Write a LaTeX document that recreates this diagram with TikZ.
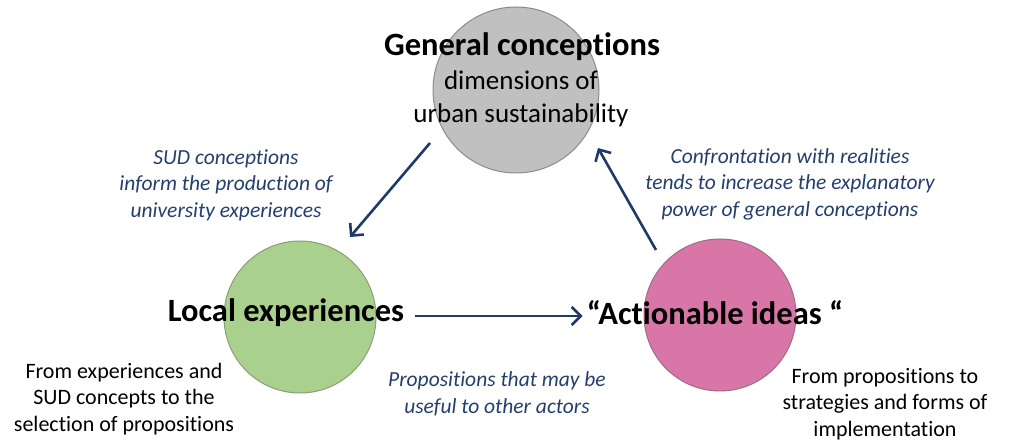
\documentclass[tikz,border=0pt]{standalone}
\usepackage{fontspec}
\setmainfont{Carlito}[Ligatures=NoCommon]
\usetikzlibrary{arrows.meta,calc}
\definecolor{navy}{HTML}{1F3A68}
\definecolor{lbl}{HTML}{243F6B}
\definecolor{grayfill}{HTML}{C0C0C0}
\definecolor{grayedge}{HTML}{8C8C8C}
\definecolor{greenfill}{HTML}{A9D08C}
\definecolor{greenedge}{HTML}{8A9E78}
\definecolor{pinkfill}{HTML}{D876A8}
\definecolor{pinkedge}{HTML}{A06C86}
\tikzset{
  circ/.style={circle, inner sep=0pt, line width=1pt},
  head/.style={font=\fontsize{32.5}{34}\selectfont\bfseries, text=black, inner sep=0pt},
  sub/.style={font=\fontsize{27}{33}\selectfont, text=black, align=center, inner sep=0pt},
  note/.style={font=\fontsize{22}{26.5}\selectfont, text=black, align=center, inner sep=0pt},
  lab/.style={font=\fontsize{21.5}{26.5}\selectfont\itshape, text=lbl, align=center, inner sep=0pt},
  flow/.style={draw=navy, line width=2.6pt, -{Straight Barb[length=9pt,width=18pt,line width=2.6pt]}}
}
\begin{document}
\begin{tikzpicture}[x=1pt,y=-1pt]
\useasboundingbox (0,0) rectangle (1013,443);
% circles
\node[circ, draw=grayedge, fill=grayfill, minimum size=166pt] (gc) at (516,90) {};
\node[circ, draw=greenedge, fill=greenfill, minimum size=152pt] (lc) at (300,317) {};
\node[circ, draw=pinkedge, fill=pinkfill, minimum size=152pt] (ac) at (720,315) {};
% titles
\node[head] (gt) at (522,47) {General conceptions};
\node[sub] (gs) at (521,99) {dimensions of\\urban sustainability};
\node[head] (lt) at (286,313) {Local experiences};
\node[head] (at) at (715,313) {“Actionable ideas “};
% arrows
\coordinate (a1s) at (430,143);
\coordinate (a1e) at (350,237);
\coordinate (a2s) at (656,250);
\coordinate (a2e) at (598,148);
\coordinate (a3s) at ($(lt.east)+(11,3)$);
\coordinate (a3e) at ($(at.west)+(-4,3)$);
\draw[flow] (a1s) -- (a1e);
\draw[flow] (a2s) -- (a2e);
\draw[flow] (a3s) -- (a3e);
% labels
\node[lab] (l1) at (226,185) {SUD conceptions\\inform the production of\\university experiences};
\node[lab] (l2) at (790,184) {Confrontation with realities\\tends to increase the explanatory\\power of  general conceptions};
\node[lab] (l3) at (497,394) {Propositions that may be\\useful to other actors};
% notes
\node[note] (n1) at (124,399) {From experiences and\\SUD concepts to the\\selection of propositions};
\node[note] (n2) at (885,404) {From propositions to\\strategies and forms of\\implementation};
\end{tikzpicture}
\end{document}
